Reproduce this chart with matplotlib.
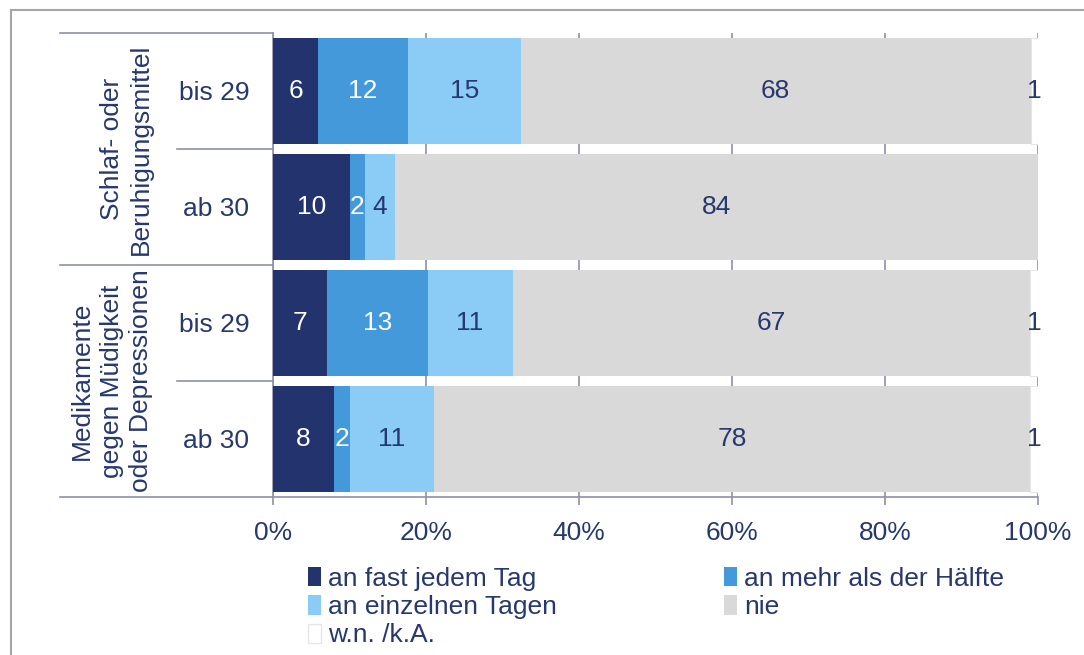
import matplotlib.pyplot as plt
import numpy as np
from matplotlib.patches import Patch, Rectangle
from matplotlib.lines import Line2D

plt.rcParams['font.family'] = ['Liberation Sans', 'DejaVu Sans']

# data (100% stacked, integer percentages as printed)
rows = ['bis 29', 'ab 30', 'bis 29', 'ab 30']
groups = ['Schlaf- oder\nBeruhigungsmittel',
          'Medikamente\ngegen Müdigkeit\noder Depressionen']
series = ['an fast jedem Tag', 'an mehr als der Hälfte',
          'an einzelnen Tagen', 'nie', 'w.n. /k.A.']
fast = [6, 10, 7, 8]
mehr = [12, 2, 13, 2]
einzeln = [15, 4, 11, 11]
nie = [68, 84, 67, 78]
wnka = [1, 0, 1, 1]

colors = ['#23336E', '#4499DA', '#8ACCF6', '#D9D9D9', '#FFFFFF']
txt_colors = ['white', 'white', '#27386F', '#27386F', '#27386F']
navy = '#27386F'
axis_gray = '#8E90AA'
fs = 19

vals = np.array([fast, mehr, einzeln, nie, wnka], dtype=float)
shares = vals / vals.sum(axis=0) * 100

fig = plt.figure(figsize=(10.84, 6.55), dpi=100)
ax = fig.add_axes([273 / 1084, 1 - 497 / 655, 765 / 1084, 464 / 655])

y = np.arange(len(rows))
left = np.zeros(len(rows))
for i, name in enumerate(series):
    ec = '#E6E6E6' if i == 4 else 'none'
    ax.barh(y, shares[i], left=left, height=0.92, color=colors[i],
            edgecolor=ec, linewidth=0.8, label=name, zorder=3)
    for j in range(len(rows)):
        if vals[i, j] > 0:
            ax.text(left[j] + shares[i, j] / 2, y[j], f'{int(vals[i, j])}',
                    ha='center', va='center', fontsize=fs,
                    color=txt_colors[i], zorder=4)
    left += shares[i]

ax.set_xlim(0, 100)
ax.set_ylim(3.5, -0.5)
ax.set_xticks(np.arange(0, 101, 20))
ax.set_xticklabels([f'{v}%' for v in range(0, 101, 20)])
ax.set_yticks(y)
ax.set_yticklabels(rows)
ax.tick_params(axis='y', length=0, pad=17, labelsize=fs, labelcolor=navy)
ax.tick_params(axis='x', length=6, width=1.2, color=axis_gray, pad=11,
               labelsize=fs, labelcolor=navy)
ax.grid(axis='x', color=axis_gray, lw=1.2, zorder=0)
ax.set_axisbelow(True)
for s in ['top', 'right']:
    ax.spines[s].set_visible(False)
for s in ['left', 'bottom']:
    ax.spines[s].set_color(axis_gray)
    ax.spines[s].set_linewidth(1.2)

# category separator lines
trans = ax.get_yaxis_transform()
for yy in [-0.5, 1.5, 3.5]:
    ax.add_line(Line2D([-0.278, 0], [yy, yy], transform=trans,
                       color=axis_gray, lw=1.2, clip_on=False))
for yy in [0.5, 2.5]:
    ax.add_line(Line2D([-0.125, 0], [yy, yy], transform=trans,
                       color=axis_gray, lw=1.2, clip_on=False))

# group labels
for gy, g in zip([0.5, 2.5], groups):
    ax.text(-0.157, gy, g, transform=trans, rotation=90, ha='right',
            va='center', ma='center', fontsize=fs, color=navy,
            linespacing=1.28)

# legend
handles = [Patch(facecolor=c, edgecolor='#E6E6E6' if k == 4 else 'none')
           for k, c in enumerate(colors)]
order = [0, 2, 4, 1, 3]
leg = fig.legend([handles[k] for k in order], [series[k] for k in order],
                 ncol=2, loc='upper left',
                 bbox_to_anchor=(308 / 1084, 1 - 567 / 655),
                 frameon=False, fontsize=fs, handlelength=0.5,
                 handleheight=0.75, handletextpad=0.25, labelspacing=0.16,
                 columnspacing=6.35, borderpad=0, borderaxespad=0)
for t in leg.get_texts():
    t.set_color(navy)

# outer frame
fig.add_artist(Rectangle((11 / 1084, -0.1), 1.2, 1 - 10 / 655 + 0.1,
                         transform=fig.transFigure, fill=False,
                         edgecolor='#A6A6A6', lw=1.5))

fig.savefig('out.png', dpi=100)
